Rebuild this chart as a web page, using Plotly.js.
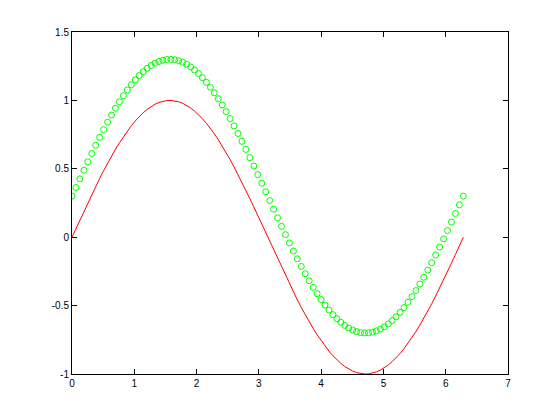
<!DOCTYPE html>
<html>
<head>
<meta charset="utf-8">
<script src="https://cdn.plot.ly/plotly-3.0.1.min.js"></script>
<style>html,body{margin:0;padding:0;background:#fff;}#plot{width:560px;height:420px;}</style>
</head>
<body>
<div id="plot"></div>
<script>
var xValues = [0, 0.0635, 0.1269, 0.1904, 0.2539, 0.3173, 0.3808, 0.4443, 0.5077, 0.5712,
  0.6347, 0.6981, 0.7616, 0.8251, 0.8885, 0.9520, 1.0155, 1.0789, 1.1424, 1.2059,
  1.2693, 1.3328, 1.3963, 1.4597, 1.5232, 1.5867, 1.6501, 1.7136, 1.7771, 1.8405,
  1.9040, 1.9675, 2.0309, 2.0944, 2.1579, 2.2213, 2.2848, 2.3483, 2.4117, 2.4752,
  2.5387, 2.6021, 2.6656, 2.7291, 2.7925, 2.8560, 2.9195, 2.9829, 3.0464, 3.1099,
  3.1733, 3.2368, 3.3003, 3.3637, 3.4272, 3.4907, 3.5541, 3.6176, 3.6811, 3.7445,
  3.8080, 3.8715, 3.9349, 3.9984, 4.0619, 4.1253, 4.1888, 4.2523, 4.3157, 4.3792,
  4.4427, 4.5061, 4.5696, 4.6331, 4.6965, 4.7600, 4.8235, 4.8869, 4.9504, 5.0139,
  5.0773, 5.1408, 5.2043, 5.2677, 5.3312, 5.3947, 5.4581, 5.5216, 5.5851, 5.6485,
  5.7120, 5.7755, 5.8389, 5.9024, 5.9659, 6.0293, 6.0928, 6.1563, 6.2197, 6.2832];

var redValues = [0, 0.0634, 0.1266, 0.1893, 0.2511, 0.3120, 0.3717, 0.4298, 0.4862, 0.5406,
  0.5929, 0.6428, 0.6901, 0.7346, 0.7761, 0.8146, 0.8497, 0.8815, 0.9096, 0.9341,
  0.9549, 0.9718, 0.9848, 0.9938, 0.9989, 0.9999, 0.9969, 0.9898, 0.9788, 0.9639,
  0.9450, 0.9224, 0.8960, 0.8660, 0.8326, 0.7958, 0.7557, 0.7127, 0.6668, 0.6182,
  0.5671, 0.5137, 0.4582, 0.4009, 0.3420, 0.2817, 0.2203, 0.1580, 0.0951, 0.0317,
  -0.0317, -0.0951, -0.1580, -0.2203, -0.2817, -0.3420, -0.4009, -0.4582, -0.5137, -0.5671,
  -0.6182, -0.6668, -0.7127, -0.7557, -0.7958, -0.8326, -0.8660, -0.8960, -0.9224, -0.9450,
  -0.9639, -0.9788, -0.9898, -0.9969, -0.9999, -0.9989, -0.9938, -0.9848, -0.9718, -0.9549,
  -0.9341, -0.9096, -0.8815, -0.8497, -0.8146, -0.7761, -0.7346, -0.6901, -0.6428, -0.5929,
  -0.5406, -0.4862, -0.4298, -0.3717, -0.3120, -0.2511, -0.1893, -0.1266, -0.0634, 0];

var greenValues = [0.3, 0.3634, 0.4266, 0.4893, 0.5511, 0.6120, 0.6717, 0.7298, 0.7862, 0.8406,
  0.8929, 0.9428, 0.9901, 1.0346, 1.0761, 1.1146, 1.1497, 1.1815, 1.2096, 1.2341,
  1.2549, 1.2718, 1.2848, 1.2938, 1.2989, 1.2999, 1.2969, 1.2898, 1.2788, 1.2639,
  1.2450, 1.2224, 1.1960, 1.1660, 1.1326, 1.0958, 1.0557, 1.0127, 0.9668, 0.9182,
  0.8671, 0.8137, 0.7582, 0.7009, 0.6420, 0.5817, 0.5203, 0.4580, 0.3951, 0.3317,
  0.2683, 0.2049, 0.1420, 0.0797, 0.0183, -0.0420, -0.1009, -0.1582, -0.2137, -0.2671,
  -0.3182, -0.3668, -0.4127, -0.4557, -0.4958, -0.5326, -0.5660, -0.5960, -0.6224, -0.6450,
  -0.6639, -0.6788, -0.6898, -0.6969, -0.6999, -0.6989, -0.6938, -0.6848, -0.6718, -0.6549,
  -0.6341, -0.6096, -0.5815, -0.5497, -0.5146, -0.4761, -0.4346, -0.3901, -0.3428, -0.2929,
  -0.2406, -0.1862, -0.1298, -0.0717, -0.0120, 0.0489, 0.1107, 0.1734, 0.2366, 0.3];

var xTickVals = [0, 1, 2, 3, 4, 5, 6, 7];
var xTickText = ['0', '1', '2', '3', '4', '5', '6', '7'];
var yTickVals = [-1, -0.5, 0, 0.5, 1, 1.5];
var yTickText = ['-1', '-0.5', '0', '0.5', '1', '1.5'];

var traces = [
  {x: xValues, y: redValues, type: 'scatter', mode: 'lines',
   line: {color: '#ff0000', width: 1}, hoverinfo: 'skip'},
  {x: xValues, y: greenValues, type: 'scatter', mode: 'markers',
   marker: {symbol: 'circle-open', size: 6, color: '#00ff00', line: {width: 1, color: '#00ff00'}},
   hoverinfo: 'skip'}
];

var axisCommon = {
  showgrid: false, zeroline: false, showline: true, linecolor: '#000', linewidth: 1,
  mirror: 'ticks', ticks: 'inside', ticklen: 5, tickcolor: '#000', tickwidth: 1,
  tickfont: {family: 'Liberation Sans, Arial, sans-serif', size: 10, color: '#000'},
  fixedrange: true
};

var layout = {
  width: 560, height: 420,
  margin: {l: 72, r: 52, t: 32, b: 46, pad: 0},
  paper_bgcolor: '#fff', plot_bgcolor: '#fff',
  showlegend: false,
  xaxis: Object.assign({}, axisCommon, {range: [0, 7], tickmode: 'array', tickvals: xTickVals, ticktext: xTickText}),
  yaxis: Object.assign({}, axisCommon, {range: [-1, 1.5], tickmode: 'array', tickvals: yTickVals, ticktext: yTickText})
};

Plotly.newPlot('plot', traces, layout, {staticPlot: true, displayModeBar: false});
</script>
</body>
</html>
